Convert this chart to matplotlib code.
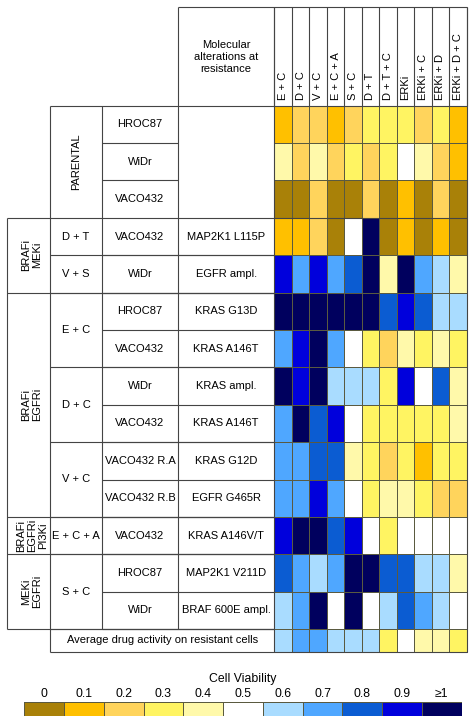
import numpy as np
import matplotlib
matplotlib.use('Agg')
import matplotlib.pyplot as plt
from matplotlib.colors import ListedColormap, BoundaryNorm

plt.rcParams['font.family'] = ['Liberation Sans', 'DejaVu Sans']

# drug treatments (heatmap columns)
drugs = ['E + C', 'D + C', 'V + C', 'E + C + A', 'S + C', 'D + T',
         'D + T + C', 'ERKi', 'ERKi + C', 'ERKi + D', 'ERKi + D + C']

# row annotations
cell_lines = ['HROC87', 'WiDr', 'VACO432',
              'VACO432', 'WiDr',
              'HROC87', 'VACO432', 'WiDr', 'VACO432', 'VACO432 R.A', 'VACO432 R.B',
              'VACO432',
              'HROC87', 'WiDr']
alterations = ['', '', '',
               'MAP2K1 L115P', 'EGFR ampl.',
               'KRAS G13D', 'KRAS A146T', 'KRAS ampl.', 'KRAS A146T',
               'KRAS G12D', 'EGFR G465R',
               'KRAS A146V/T',
               'MAP2K1 V211D', 'BRAF 600E ampl.']
combos = [('D + T', 3, 4), ('V + S', 4, 5), ('E + C', 5, 7), ('D + C', 7, 9),
          ('V + C', 9, 11), ('E + C + A', 11, 12), ('S + C', 12, 14)]
classes = [('BRAFi\nMEKi', 3, 5), ('BRAFi\nEGFRi', 5, 11),
           ('BRAFi\nEGFRi\nPI3Ki', 11, 12), ('MEKi\nEGFRi', 12, 14)]
avg_label = 'Average drug activity on resistant cells'

# cell viability (fraction), one row per line of the table
viability = [
    [0.1, 0.2, 0.2, 0.1, 0.2, 0.3, 0.3, 0.3, 0.2, 0.3, 0.1],
    [0.4, 0.2, 0.4, 0.2, 0.3, 0.2, 0.3, 0.5, 0.4, 0.2, 0.1],
    [0.0, 0.0, 0.2, 0.0, 0.0, 0.2, 0.0, 0.1, 0.0, 0.2, 0.0],
    [0.1, 0.1, 0.2, 0.0, 0.5, 1.0, 0.0, 0.1, 0.0, 0.1, 0.0],
    [0.9, 0.7, 0.9, 0.7, 0.8, 1.0, 0.4, 1.0, 0.7, 0.6, 0.4],
    [1.0, 1.0, 1.0, 1.0, 1.0, 1.0, 0.8, 0.9, 0.8, 0.6, 0.6],
    [0.7, 0.9, 1.0, 0.7, 0.5, 0.3, 0.2, 0.4, 0.3, 0.4, 0.3],
    [1.0, 0.9, 1.0, 0.6, 0.6, 0.6, 0.3, 0.9, 0.5, 0.8, 0.4],
    [0.7, 1.0, 0.8, 0.9, 0.5, 0.3, 0.3, 0.3, 0.3, 0.3, 0.4],
    [0.7, 0.7, 0.8, 0.8, 0.4, 0.3, 0.2, 0.3, 0.1, 0.3, 0.3],
    [0.7, 0.7, 0.9, 0.7, 0.5, 0.3, 0.4, 0.4, 0.3, 0.2, 0.2],
    [0.9, 1.0, 1.0, 0.8, 0.9, 0.5, 0.3, 0.5, 0.5, 0.5, 0.5],
    [0.8, 0.7, 0.6, 0.7, 1.0, 1.0, 0.8, 0.8, 0.6, 0.6, 0.4],
    [0.6, 0.7, 1.0, 0.5, 1.0, 0.5, 0.6, 0.8, 0.7, 0.6, 0.5],
    [0.6, 0.7, 0.7, 0.6, 0.6, 0.6, 0.3, 0.5, 0.4, 0.4, 0.3],
]

cbar_labels = ['0', '0.1', '0.2', '0.3', '0.4', '0.5', '0.6', '0.7', '0.8', '0.9', '≥1']
colors = ['#A98108', '#FFC000', '#FFD45C', '#FFF462', '#FFF9AA', '#FFFFFF',
          '#A9DCFF', '#4FA7FF', '#0B5CD2', '#0000DC', '#00005E']

cmap = ListedColormap(colors)
norm = BoundaryNorm(np.arange(-0.05, 1.1, 0.1), cmap.N)

W, H = 474, 723
fig = plt.figure(figsize=(W / 100, H / 100), dpi=100)
ax = fig.add_axes([0, 0, 1, 1])
ax.set_xlim(0, W)
ax.set_ylim(H, 0)
ax.axis('off')

# layout (pixels)
x0, x1, x2, x3, x4, x5 = 7, 50, 102, 178, 274.3, 466.7
ytop, yhead = 6.7, 105.7
rh = 37.38
nrow = len(cell_lines)
yedges = list(yhead + rh * np.arange(nrow + 1)) + [yhead + rh * nrow + 22.7]
xedges = np.linspace(x4, x5, len(drugs) + 1)

ax.pcolormesh(xedges, yedges, np.array(viability), cmap=cmap, norm=norm,
              edgecolor='#5a5a40', linewidth=0.7)

lc = '#444444'
lw = 0.8
fs = 8.0


def hline(y, xa, xb):
    ax.plot([xa, xb], [y, y], color=lc, lw=lw, solid_capstyle='butt')


def vline(x, ya, yb):
    ax.plot([x, x], [ya, yb], color=lc, lw=lw, solid_capstyle='butt')


ye = yedges
# header
hline(ytop, x3, x5)
for xc in xedges:
    vline(xc, ytop, yhead)
vline(x3, ytop, ye[nrow])
vline(x5, ytop, ye[-1])
vline(x4, ytop, ye[-1])
hline(yhead, x1, x5)
ax.text((x3 + x4) / 2, 57, 'Molecular\nalterations at\nresistance', ha='center',
        va='center', fontsize=fs, linespacing=1.3)
for i, d in enumerate(drugs):
    ax.text((xedges[i] + xedges[i + 1]) / 2, 99.5, d, rotation=90, ha='center',
            va='bottom', fontsize=fs)

# parental block
vline(x1, yhead, ye[-1])
vline(x2, yhead, ye[nrow])
for r in range(1, 3):
    hline(ye[r], x2, x3)
ax.text((x1 + x2) / 2, (ye[0] + ye[3]) / 2, 'PARENTAL', rotation=90,
        ha='center', va='center', fontsize=fs)

# resistant rows
vline(x0, ye[3], ye[nrow])
hline(ye[3], x0, x5)
for r in range(3, nrow):
    hline(ye[r + 1], x2, x4)
for name, a, b in combos:
    hline(ye[b], x1, x4)
    ax.text((x1 + x2) / 2, (ye[a] + ye[b]) / 2, name, ha='center', va='center',
            fontsize=fs)
for name, a, b in classes:
    hline(ye[b], x0, x4)
    ax.text((x0 + x1) / 2 + 3.5, (ye[a] + ye[b]) / 2, name, rotation=90,
            ha='center', va='center', fontsize=fs, linespacing=1.1)

for r in range(nrow):
    yc = (ye[r] + ye[r + 1]) / 2
    ax.text((x2 + x3) / 2, yc, cell_lines[r], ha='center', va='center', fontsize=fs)
    if alterations[r]:
        ax.text((x3 + x4) / 2, yc, alterations[r], ha='center', va='center',
                fontsize=fs)

# average row
hline(ye[-1], x1, x5)
ax.text((x1 + x4) / 2, (ye[-2] + ye[-1]) / 2, avg_label, ha='center',
        va='center', fontsize=fs)

# colour key
cx0, cx1, cy0, cy1 = 24.3, 461.7, 702.3, 716
cax = fig.add_axes([cx0 / W, 1 - cy1 / H, (cx1 - cx0) / W, (cy1 - cy0) / H])
key_vals = np.arange(len(colors)) / 10
cax.pcolormesh(np.arange(len(colors) + 1), [0, 1], key_vals[None, :], cmap=cmap,
               norm=norm, edgecolor='#5a5a40', linewidth=0.7)
cax.set_xlim(0, len(colors))
cax.set_ylim(0, 1)
cax.axis('off')
cw = (cx1 - cx0) / len(colors)
for i, lab in enumerate(cbar_labels):
    ax.text(cx0 + cw * (i + 0.5), 694, lab, ha='center', va='center', fontsize=8.8)
ax.text((cx0 + cx1) / 2, 679, 'Cell Viability', ha='center', va='center',
        fontsize=8.8)

fig.savefig('out.png', dpi=100)
